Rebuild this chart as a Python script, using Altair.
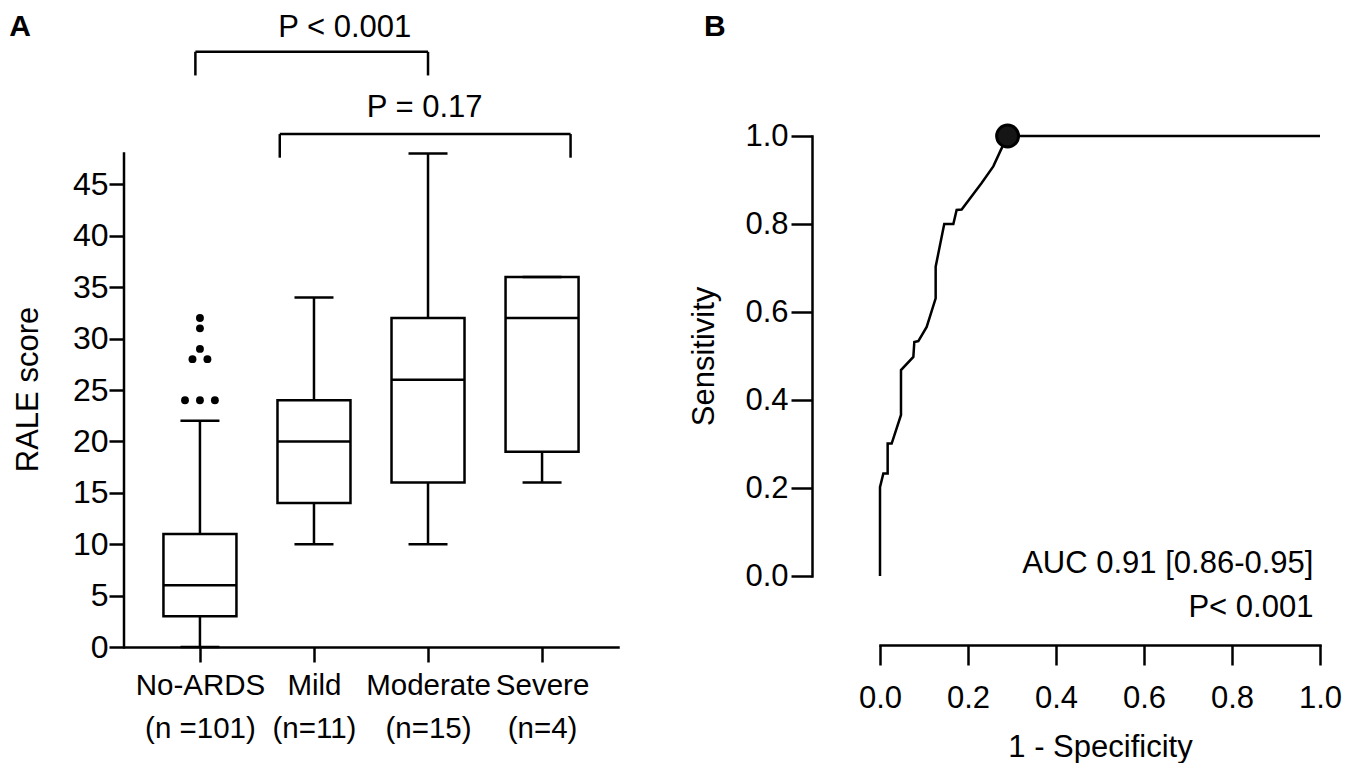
import json
import altair as alt
import pandas as pd

# ---------------- data ----------------
categories = ["No-ARDS", "Mild", "Moderate", "Severe"]
group_sizes = ["(n =101)", "(n=11)", "(n=15)", "(n=4)"]
whisker_low = [0, 10, 10, 16]
q1 = [3, 14, 16, 19]
median = [6, 20, 26, 32]
q3 = [11, 24, 32, 36]
whisker_high = [22, 34, 48, 36]
outlier_group = ["No-ARDS"] * 8
outlier_values = [24, 24, 24, 28, 28, 29, 31, 32]
score_axis_range = [0, 48]

bracket_text = ["P < 0.001", "P = 0.17"]
bracket_from = [-0.04, 0.70]     # in category-index units
bracket_to = [2.0, 3.25]
bracket_level = [57.9, 49.9]     # RALE score units
bracket_text_x = [1.27, 1.97]
bracket_text_y = [59.32, 51.6]

fpr = [0.0, 0.0, 0.0076, 0.0174, 0.0174, 0.0265, 0.0477, 0.0477, 0.0758, 0.078,
       0.0871, 0.1061, 0.1265, 0.1265, 0.146, 0.1667, 0.1742, 0.1856, 0.231,
       0.2575, 0.275, 0.29, 1.0]
tpr = [0.0, 0.202, 0.233, 0.233, 0.301, 0.301, 0.366, 0.468, 0.498, 0.532,
       0.534, 0.566, 0.631, 0.703, 0.800, 0.800, 0.832, 0.833, 0.893,
       0.931, 0.969, 1.0, 1.0]
cutoff_fpr = [0.29]
cutoff_tpr = [1.0]
auc_text = ["AUC 0.91 [0.86-0.95]", "P< 0.001"]
auc_text_x = [0.985, 0.985]
auc_text_y = [0.007, -0.093]

panel_letters = ["A", "B"]
letterA_pos = (-1.672, 59.41)    # panel A data units
letterB_pos = (-0.40, 1.227)     # panel B data units

# ---------------- styling ----------------
FONT = "Liberation Sans, Arial, sans-serif"
FS_TICK = 32
FS_TICK_B = 31
FS = 31
FS_CAT = 29.5
LW = 2.5
BOX_W = 73
CAP_W = 39
SPREAD = 0.131   # spacing between tied outliers (category units)
LEG = 2.3        # bracket leg length (score units)

# ---------------- panel A tables ----------------
pos = list(range(len(categories)))
box_df = pd.DataFrame({"pos": pos, "cat": categories, "low": whisker_low, "q1": q1,
                       "med": median, "q3": q3, "high": whisker_high})

out_df = pd.DataFrame({"cat": outlier_group, "val": outlier_values})
out_df["pos"] = out_df["cat"].map({c: i for i, c in enumerate(categories)})
out_df["k"] = out_df.groupby(["cat", "val"]).cumcount()
out_df["cnt"] = out_df.groupby(["cat", "val"])["val"].transform("count")
out_df["x"] = out_df["pos"] + (out_df["k"] - (out_df["cnt"] - 1) / 2) * SPREAD

br_df = pd.DataFrame({"a": bracket_from, "b": bracket_to, "lvl": bracket_level})
br_df["foot"] = br_df["lvl"] - LEG
leg_df = pd.concat([br_df[["a", "lvl", "foot"]].rename(columns={"a": "x"}),
                    br_df[["b", "lvl", "foot"]].rename(columns={"b": "x"})])
brt_df = pd.DataFrame({"x": bracket_text_x, "y": bracket_text_y, "t": bracket_text})
letA_df = pd.DataFrame({"x": [letterA_pos[0]], "y": [letterA_pos[1]], "t": [panel_letters[0]]})

XMIN, XMAX = -0.666, 3.666
axis_df = pd.DataFrame({"x": [XMIN], "y0": [score_axis_range[0]], "y1": [score_axis_range[1]]})

label_expr = "[" + ",".join(json.dumps([c, n]) for c, n in zip(categories, group_sizes)) + "][datum.value]"

xA_scale = alt.Scale(domain=[XMIN, XMAX], nice=False, zero=False, padding=0)
yA_scale = alt.Scale(domain=[0, 49.71], nice=False, padding=0)
xA_axis = alt.Axis(values=pos, labelExpr=label_expr, title=None, grid=False,
                   tickSize=15, labelPadding=9, labelLineHeight=43, labelAngle=0,
                   labelBaseline="top", labelFontSize=FS_CAT, labelOverlap=False,
                   labelFlush=False, labelBound=False)
yA_axis = alt.Axis(values=list(range(0, 50, 5)), title="RALE score", grid=False,
                   domain=False, tickSize=15, labelPadding=1, labelFontSize=FS_TICK,
                   titleFontSize=FS, titlePadding=28, titleY=253,
                   labelFlush=False, labelOverlap=False)

def XA(field):
    return alt.X(field, type="quantitative", scale=xA_scale, axis=xA_axis)

def YA(field):
    return alt.Y(field, type="quantitative", scale=yA_scale, axis=yA_axis)

rule = dict(color="black", strokeWidth=LW)
tick = dict(orient="horizontal", thickness=LW, color="black", opacity=1)

y_axis_line = alt.Chart(axis_df).mark_rule(color="black", strokeWidth=LW, strokeCap="square").encode(
    x=XA("x"), y=YA("y0"), y2="y1")
whisk_lo = alt.Chart(box_df).mark_rule(**rule).encode(x=XA("pos"), y=YA("low"), y2="q1")
whisk_hi = alt.Chart(box_df).mark_rule(**rule).encode(x=XA("pos"), y=YA("q3"), y2="high")
box = alt.Chart(box_df).mark_bar(width=BOX_W, fill="white", stroke="black",
                                 strokeWidth=LW).encode(x=XA("pos"), y=YA("q1"), y2="q3")
med = alt.Chart(box_df).mark_tick(size=BOX_W, **tick).encode(x=XA("pos"), y=YA("med"))
cap_lo = alt.Chart(box_df).mark_tick(size=CAP_W, **tick).encode(x=XA("pos"), y=YA("low"))
cap_hi = alt.Chart(box_df).mark_tick(size=CAP_W, **tick).encode(x=XA("pos"), y=YA("high"))
outl = alt.Chart(out_df).mark_circle(size=62, color="black", opacity=1).encode(
    x=XA("x"), y=YA("val"))
br_h = alt.Chart(br_df).mark_rule(**rule).encode(x=XA("a"), x2="b", y=YA("lvl"))
br_v = alt.Chart(leg_df).mark_rule(**rule).encode(x=XA("x"), y=YA("lvl"), y2="foot")
br_t = alt.Chart(brt_df).mark_text(font=FONT, fontSize=FS, baseline="alphabetic",
                                   align="center", color="black").encode(
    x=XA("x"), y=YA("y"), text="t")
letA = alt.Chart(letA_df).mark_text(font=FONT, fontSize=30, fontWeight="bold",
                                    baseline="alphabetic", align="left", color="black").encode(
    x=XA("x"), y=YA("y"), text="t")

panelA = alt.layer(y_axis_line, whisk_lo, whisk_hi, box, med, cap_lo, cap_hi, outl,
                   br_h, br_v, br_t, letA).properties(width=494, height=511)

# ---------------- panel B ----------------
roc_df = pd.DataFrame({"i": range(len(fpr)), "fpr": fpr, "tpr": tpr})
cut_df = pd.DataFrame({"fpr": cutoff_fpr, "tpr": cutoff_tpr})
auc_df = pd.DataFrame({"fpr": auc_text_x, "tpr": auc_text_y, "t": auc_text})
letB_df = pd.DataFrame({"fpr": [letterB_pos[0]], "tpr": [letterB_pos[1]], "t": [panel_letters[1]]})

ticksB = [0.0, 0.2, 0.4, 0.6, 0.8, 1.0]
xB = alt.X("fpr:Q", scale=alt.Scale(domain=[0, 1], nice=False, padding=0),
           axis=alt.Axis(values=ticksB, format=".1f", offset=69, tickSize=20,
                         labelPadding=18, title="1 - Specificity", titlePadding=19,
                         grid=False, labelFontSize=FS_TICK_B, titleFontSize=FS,
                         labelFlush=False, labelOverlap=False, labelBound=False))
yB = alt.Y("tpr:Q", scale=alt.Scale(domain=[0, 1], nice=False, padding=0),
           axis=alt.Axis(values=ticksB, format=".1f", offset=68, tickSize=21,
                         labelPadding=3, title="Sensitivity", titlePadding=24,
                         grid=False, labelFontSize=FS_TICK_B, titleFontSize=FS,
                         labelFlush=False, labelOverlap=False, labelBound=False))

roc_line = alt.Chart(roc_df).mark_line(color="black", strokeWidth=LW).encode(
    x=xB, y=yB, order="i:Q")
cut_pt = alt.Chart(cut_df).mark_circle(size=480, color="#151515", opacity=1,
                                       stroke="black", strokeWidth=3).encode(x=xB, y=yB)
auc = alt.Chart(auc_df).mark_text(font=FONT, fontSize=FS, align="right",
                                  baseline="alphabetic", color="black").encode(
    x=xB, y=yB, text="t")
letB = alt.Chart(letB_df).mark_text(font=FONT, fontSize=30, fontWeight="bold",
                                    baseline="alphabetic", align="left", color="black").encode(
    x=xB, y=yB, text="t")

panelB = alt.layer(roc_line, cut_pt, auc, letB).properties(width=440, height=440)

chart = alt.hconcat(panelA, panelB, spacing=70).properties(
    padding={"left": 1, "top": 4, "right": 0, "bottom": 1}).configure(
    background="white").configure_view(stroke=None).configure_axis(
    domainColor="black", tickColor="black", labelColor="black", titleColor="black",
    domainWidth=LW, tickWidth=LW, labelFont=FONT, titleFont=FONT,
    titleFontWeight="normal", labelFontWeight="normal", domainCap="square")

chart.save("out.html", embed_options={"renderer": "svg", "actions": False})
